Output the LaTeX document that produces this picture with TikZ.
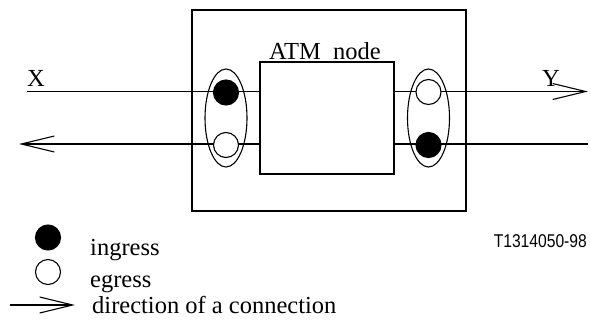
\documentclass[tikz,border=0pt]{standalone}
\usepackage{fontspec}
\usepackage{graphicx}
\setmainfont{Liberation Serif}
\newfontfamily\tagfont{Liberation Sans}
\usetikzlibrary{positioning, arrows.meta, shapes.geometric}

\begin{document}
\begin{tikzpicture}[x=1pt, y=-1pt,
  ln/.style={line width=1.1pt},
  fl/.style={ln, -{Straight Barb[length=33pt, width=16pt, line width=1.1pt]}},
  port/.style={circle, draw, ln, minimum size=25pt, inner sep=0pt},
  ing/.style={port, fill=black},
  egr/.style={port, fill=white},
  grp/.style={ellipse, draw, ln, minimum width=42pt, minimum height=98pt, inner sep=0pt},
  et/.style={font=\fontsize{24.5}{26}\selectfont, inner sep=0pt},
  tg/.style={font=\tagfont\fontsize{18.5}{20}\selectfont, inner sep=0pt}]
\useasboundingbox (0,0) rectangle (591,327);
% switch and ATM node
\node[draw, ln, minimum width=274pt, minimum height=201pt] (sw) at (329,110.5) {};
\node[draw, ln, minimum width=134pt, minimum height=112pt] (atm) at (327,118) {};
\node[et, anchor=base] (atmlbl) at (325,59) {ATM\ \ node};
% connection end points
\coordinate (xin) at (27,91.5);
\coordinate (xout) at (19,144);
\coordinate (yout) at (588,91.5);
\coordinate (yin) at (588,144);
\draw[ln] (xin) -- (xin -| atm.west);
\draw[fl] (xout -| atm.west) -- (xout);
\draw[fl] (yout -| atm.east) -- (yout);
\draw[ln] (yin) -- (yin -| atm.east);
\node[et, anchor=base west] (xlbl) at (27,86) {X};
\node[et, anchor=base west] (ylbl) at (542,86) {Y};
% ingress / egress pairs
\node[grp] (lgrp) at (226,118) {};
\node[grp] (rgrp) at (428.5,118) {};
\node[ing] (lin) at (226,92.5) {};
\node[egr] (lout) at (226,145) {};
\node[egr] (rout) at (428.5,92) {};
\node[ing] (rin) at (428.5,145) {};
% legend
\node[ing] (kin) at (48,237.5) {};
\node[egr] (kout) at (48,272) {};
\coordinate (ka) at (10,305);
\coordinate (kb) at (75,305);
\draw[fl] (ka) -- (kb);
\node[et, anchor=base west] (tin) at (90,255) {ingress};
\node[et, anchor=base west] (tout) at (90,287) {egress};
\node[et, anchor=base west] (tdir) at (92,313) {direction of a connection};
\node[tg, anchor=base east] (tag) at (587,247) {\scalebox{0.845}[1]{T1314050-98}};
\end{tikzpicture}
\end{document}
